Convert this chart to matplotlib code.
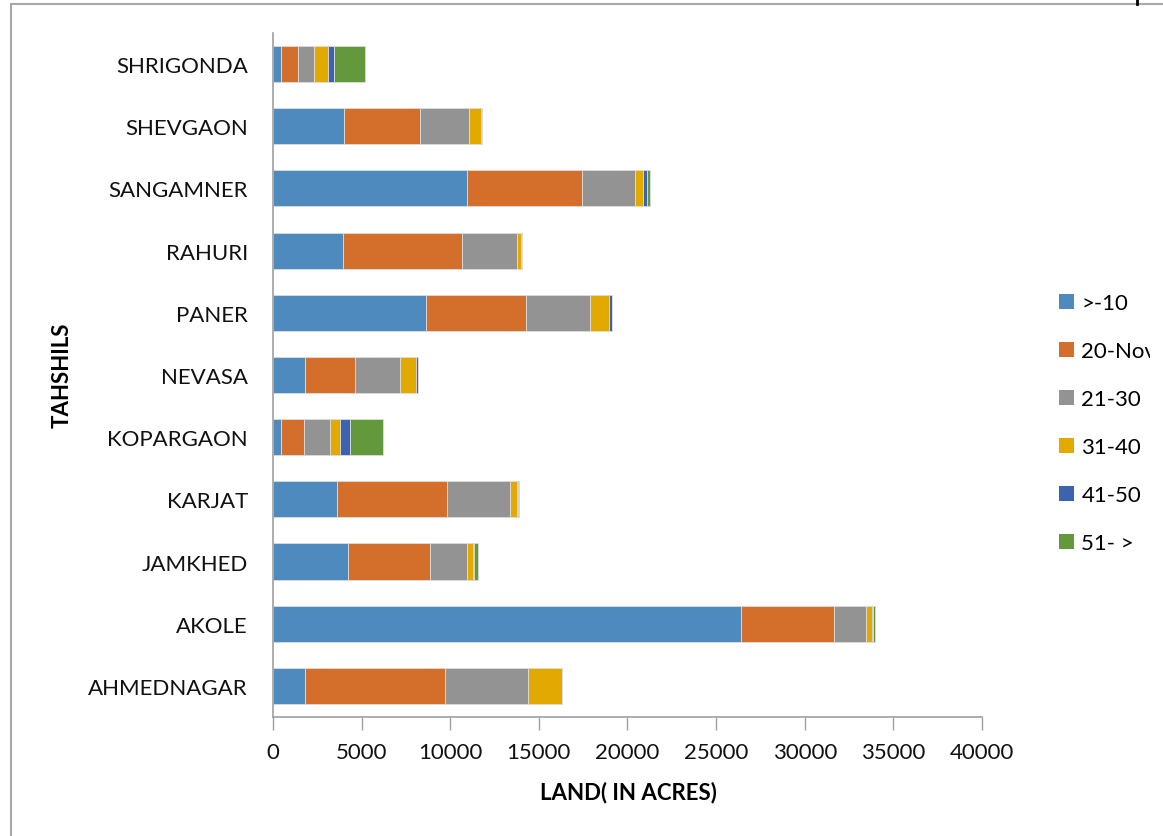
import matplotlib
matplotlib.use("Agg")
import matplotlib.pyplot as plt
from matplotlib.patches import Rectangle
from matplotlib.lines import Line2D
from matplotlib.transforms import Bbox, TransformedBbox
import numpy as np

plt.rcParams['font.family'] = ['Lato', 'DejaVu Sans']

tahshils = ["AHMEDNAGAR", "AKOLE", "JAMKHED", "KARJAT", "KOPARGAON", "NEVASA",
            "PANER", "RAHURI", "SANGAMNER", "SHEVGAON", "SHRIGONDA"]
size_groups = [">-10", "20-Nov", "21-30", "31-40", "41-50", "51- >"]

land_lt10 = [1820, 26430, 4260, 3620, 450, 1810, 8610, 3940, 10930, 3990, 440]
land_11_20 = [7880, 5240, 4610, 6210, 1300, 2820, 5680, 6720, 6510, 4310, 960]
land_21_30 = [4660, 1760, 2070, 3540, 1470, 2530, 3620, 3120, 2990, 2770, 940]
land_31_40 = [1970, 350, 320, 410, 590, 900, 1060, 230, 470, 640, 770]
land_41_50 = [0, 90, 75, 40, 540, 100, 150, 20, 210, 70, 360]
land_51_up = [0, 100, 225, 40, 1860, 0, 20, 20, 150, 10, 1720]

series = [land_lt10, land_11_20, land_21_30, land_31_40, land_41_50, land_51_up]
colors = ["#4F8ABE", "#D36F2A", "#939393", "#E2AA00", "#3C64AE", "#64983D"]

FS = 16

fig = plt.figure(figsize=(11.63, 8.37), dpi=100)
ax = fig.add_axes([0.2347, 0.1422, 0.6097, 0.8172])

y = np.arange(len(tahshils))
left = np.zeros(len(tahshils))
handles = []
for vals, col, lab in zip(series, colors, size_groups):
    vals = np.array(vals, dtype=float)
    ax.barh(y, vals, left=left, height=0.58, color=col,
            edgecolor="#dcdcdc", linewidth=0.6, label=lab)
    left += vals
    handles.append(Rectangle((0, 0), 1, 1, facecolor=col, edgecolor="none"))

ax.set_xlim(0, 40000)
ax.set_ylim(-0.5, len(tahshils) - 0.5)
ax.set_yticks(y)
ax.set_yticklabels(tahshils)
ax.set_xticks(np.arange(0, 40001, 5000))
ax.tick_params(axis='y', length=0, pad=18, labelsize=FS, colors="#111111")
ax.tick_params(axis='x', length=9, width=1, color="#a0a0a0", pad=9,
               labelsize=FS, labelcolor="#111111")
for s in ("top", "right"):
    ax.spines[s].set_visible(False)
for s in ("left", "bottom"):
    ax.spines[s].set_color("#a0a0a0")
    ax.spines[s].set_linewidth(1.2)

fig.text(628 / 1163, 1 - 793 / 837, "LAND( IN ACRES)", ha="center", va="center",
         fontsize=FS, fontweight="bold")
fig.text(62 / 1163, 1 - 375 / 837, "TAHSHILS", rotation=90, ha="center", va="center",
         fontsize=FS, fontweight="bold")

leg = fig.legend(handles, size_groups, loc="upper left",
                 bbox_to_anchor=(1050 / 1163, 1 - 285 / 837),
                 frameon=False, fontsize=FS, handlelength=0.66, handleheight=0.66,
                 handletextpad=0.35, labelspacing=1.26, borderaxespad=0)
clip = TransformedBbox(Bbox([[0, 0], [1150 / 1163, 1]]), fig.transFigure)
for t in leg.get_texts():
    t.set_clip_box(clip)
    t.set_clip_on(True)

# outer frame of the chart area
fig.add_artist(Rectangle((11 / 1163, -0.05), 1.2, 1 - 5 / 837 + 0.05,
                         transform=fig.transFigure, fill=False,
                         edgecolor="#a8a8a8", linewidth=1.5))
fig.add_artist(Line2D([1137 / 1163, 1137 / 1163], [1 - 5 / 837, 1.0],
                      transform=fig.transFigure, color="black", linewidth=2))

fig.savefig("out.png", dpi=100)
